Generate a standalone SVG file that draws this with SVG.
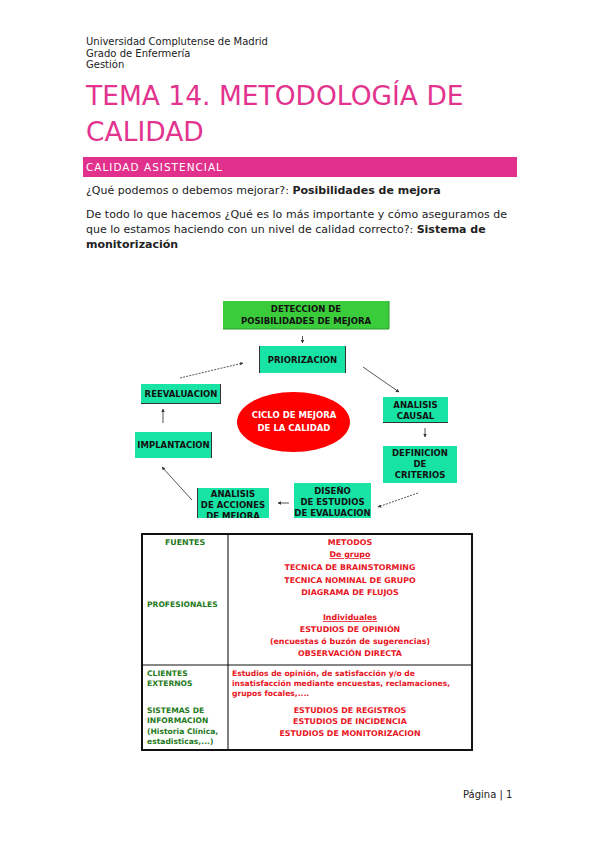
<svg xmlns="http://www.w3.org/2000/svg" width="599" height="848" viewBox="0 0 599 848">
<style>
.hd{font-family:"DejaVu Sans",sans-serif;font-size:10px;fill:#222}
.title{font-family:"DejaVu Sans",sans-serif;font-size:26.5px;fill:#E2348F}
.body{font-family:"DejaVu Sans",sans-serif;font-size:11px;fill:#222}
.b{font-weight:bold}
.box{fill:#17E3A5}
.sh{stroke:#333;stroke-width:1;fill:none}
.bt{font-family:"DejaVu Sans",sans-serif;font-weight:bold;font-size:8.5px;fill:#111;text-anchor:middle}
.conn{stroke:#555;stroke-width:1;fill:none;marker-end:url(#ah)}
.dash{stroke-dasharray:2 1.2}
.tg{font-family:"DejaVu Sans",sans-serif;font-weight:bold;font-size:7.6px;fill:#1F7A22}
.tr{font-family:"DejaVu Sans",sans-serif;font-weight:bold;font-size:7.6px;fill:#E8141E}
.c{text-anchor:middle;font-size:7.9px}
</style>
<defs>
<marker id="ah" viewBox="0 0 10 10" refX="9" refY="5" markerWidth="3.5" markerHeight="3.5" orient="auto">
<path d="M0,0 L10,5 L0,10 z" fill="#333"/>
</marker>
<clipPath id="clipd"><rect x="100" y="290" width="400" height="228"/></clipPath>
</defs>
<rect width="599" height="848" fill="#fff"/>

<g id="header">
<text class="hd" x="86" y="45">Universidad Complutense de Madrid</text>
<text class="hd" x="86" y="57">Grado de Enfermería</text>
<text class="hd" x="86" y="68">Gestión</text>
</g>

<g id="title">
<text class="title" x="86" y="105">TEMA 14. METODOLOGÍA DE</text>
<text class="title" x="86" y="141">CALIDAD</text>
</g>

<g id="section-bar">
<rect x="83" y="157" width="434" height="20" fill="#E2308D"/>
<text x="86" y="171" font-family="DejaVu Sans, sans-serif" font-size="10.5" letter-spacing="1" fill="#fff">CALIDAD ASISTENCIAL</text>
</g>

<g id="paragraphs">
<text class="body" x="86" y="194">¿Qué podemos o debemos mejorar?: <tspan class="b">Posibilidades de mejora</tspan></text>
<text class="body" x="86" y="218" textLength="421" lengthAdjust="spacing">De todo lo que hacemos ¿Qué es lo más importante y cómo aseguramos de</text>
<text class="body" x="86" y="233">que lo estamos haciendo con un nivel de calidad correcto?: <tspan class="b">Sistema de</tspan></text>
<text class="body b" x="86" y="248">monitorización</text>
</g>

<g id="cycle" clip-path="url(#clipd)">
<g id="detection">
<rect x="223" y="301" width="166" height="28" fill="#3BCC3B"/>
<path d="M223,329 H389 V301" stroke="#2a9a2a" stroke-width="1" fill="none"/>
<text class="bt" x="306" y="312" font-size="9.3">DETECCION DE</text>
<text class="bt" x="306" y="324" font-size="9.3">POSIBILIDADES DE MEJORA</text>
</g>
<g id="priorizacion">
<rect class="box" x="259" y="346" width="87" height="27"/>
<path class="sh" d="M259.5,346 V373 M345.5,346 V373"/>
<text class="bt" x="302.5" y="363" font-size="8.6">PRIORIZACION</text>
</g>
<g id="analisis-causal">
<rect class="box" x="383" y="397" width="65" height="26"/>
<path class="sh" d="M383,422.5 H448"/>
<text class="bt" x="415.5" y="408">ANALISIS</text>
<text class="bt" x="415.5" y="419">CAUSAL</text>
</g>
<g id="definicion">
<rect class="box" x="383" y="446" width="74" height="37"/>
<text class="bt" x="420" y="456">DEFINICION</text>
<text class="bt" x="420" y="467">DE</text>
<text class="bt" x="420" y="478">CRITERIOS</text>
</g>
<g id="diseno">
<rect class="box" x="294" y="483" width="77" height="40"/>
<text class="bt" x="332.5" y="494" font-size="8.2">DISEÑO</text>
<text class="bt" x="332.5" y="505" font-size="8.2">DE ESTUDIOS</text>
<text class="bt" x="332.5" y="516" font-size="8.2">DE EVALUACION</text>
</g>
<g id="analisis-acciones">
<rect class="box" x="197" y="488" width="72" height="35"/>
<path class="sh" d="M197.5,488 V523"/>
<text class="bt" x="233" y="497" font-size="8.2">ANALISIS</text>
<text class="bt" x="233" y="508" font-size="8.2">DE ACCIONES</text>
<text class="bt" x="233" y="519" font-size="8.2">DE  MEJORA</text>
</g>
<g id="implantacion">
<rect class="box" x="135" y="432" width="77" height="26"/>
<path class="sh" d="M211.5,432 V458"/>
<text class="bt" x="173.5" y="448" font-size="7.8">IMPLANTACION</text>
</g>
<g id="reevaluacion">
<rect class="box" x="141" y="384" width="80" height="20"/>
<path class="sh" d="M141,403.5 H221 M220.5,384 V404"/>
<text class="bt" x="181" y="397" font-size="8">REEVALUACION</text>
</g>
<g id="ciclo">
<ellipse cx="293.5" cy="422" rx="56.5" ry="30" fill="#FF0000"/>
<text class="bt" x="294" y="418" font-size="9.3" style="fill:#fff">CICLO DE MEJORA</text>
<text class="bt" x="294" y="431" font-size="9.3" style="fill:#fff">DE LA CALIDAD</text>
</g>
<g id="connectors">
<line class="conn" x1="302.5" y1="336" x2="302.5" y2="343"/>
<line class="conn" x1="363" y1="367" x2="399" y2="392"/>
<line class="conn" x1="425" y1="428" x2="425" y2="437"/>
<line class="conn dash" x1="418" y1="493" x2="378" y2="507"/>
<line class="conn" x1="289" y1="503" x2="278" y2="503"/>
<line class="conn" x1="192" y1="500" x2="162" y2="467"/>
<line class="conn" x1="163" y1="423" x2="163" y2="409"/>
<line class="conn dash" x1="180" y1="378" x2="243" y2="363"/>
</g>
</g>

<g id="table">
<rect x="142" y="534" width="330" height="216" fill="none" stroke="#111" stroke-width="2"/>
<line x1="228" y1="535" x2="228" y2="749" stroke="#555" stroke-width="1.5"/>
<line x1="143" y1="665" x2="471" y2="665" stroke="#111" stroke-width="1.2"/>
<text class="tg c" x="185" y="545">FUENTES</text>
<text class="tg" x="147" y="607">PROFESIONALES</text>
<text class="tr c" x="350" y="545">METODOS</text>
<text class="tr c" x="350" y="557" text-decoration="underline">De grupo</text>
<text class="tr c" x="350" y="570">TECNICA DE BRAINSTORMING</text>
<text class="tr c" x="350" y="583">TECNICA NOMINAL DE GRUPO</text>
<text class="tr c" x="350" y="595">DIAGRAMA DE FLUJOS</text>
<text class="tr c" x="350" y="620" text-decoration="underline">Individuales</text>
<text class="tr c" x="350" y="632">ESTUDIOS DE OPINIÓN</text>
<text class="tr c" x="350" y="644">(encuestas ó buzón de sugerencias)</text>
<text class="tr c" x="350" y="656">OBSERVACIÓN DIRECTA</text>
<text class="tg" x="147" y="676">CLIENTES</text>
<text class="tg" x="147" y="686">EXTERNOS</text>
<text class="tg" x="147" y="713">SISTEMAS DE</text>
<text class="tg" x="147" y="723">INFORMACION</text>
<text class="tg" x="147" y="734">(Historia Clínica,</text>
<text class="tg" x="147" y="744">estadisticas,...)</text>
<text class="tr" x="232" y="676">Estudios de opinión, de satisfacción y/o de</text>
<text class="tr" x="232" y="686">insatisfacción mediante encuestas, reclamaciones,</text>
<text class="tr" x="232" y="696">grupos focales,....</text>
<text class="tr c" x="350" y="713">ESTUDIOS DE REGISTROS</text>
<text class="tr c" x="350" y="724">ESTUDIOS DE INCIDENCIA</text>
<text class="tr c" x="350" y="736">ESTUDIOS DE MONITORIZACION</text>
</g>

<g id="footer">
<text class="hd" x="463" y="798">Página | 1</text>
</g>
</svg>
